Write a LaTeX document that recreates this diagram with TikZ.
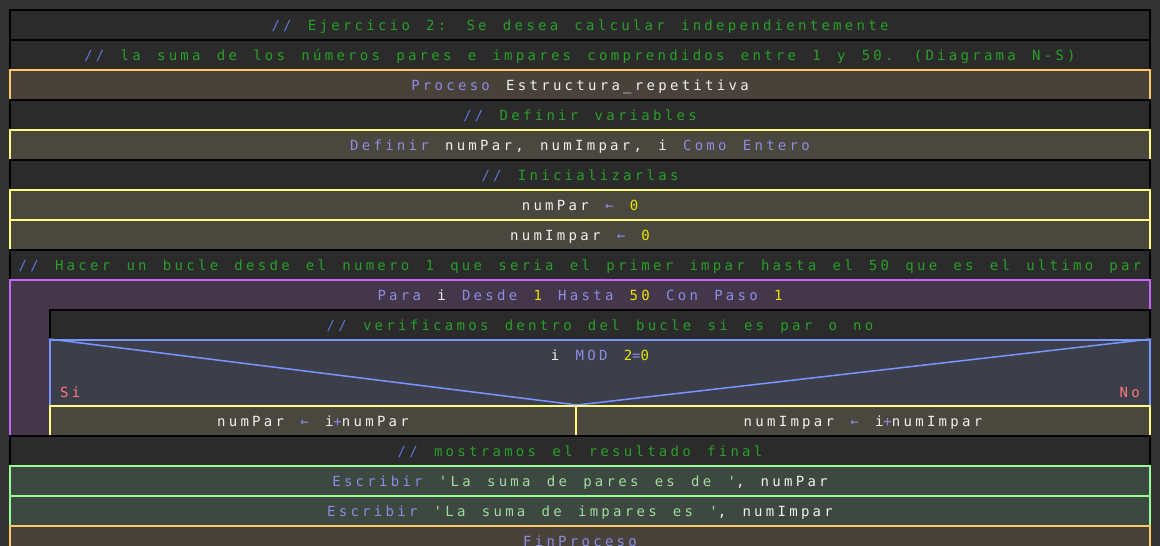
\documentclass[tikz,border=0pt]{standalone}
\usepackage{fontspec}
\newfontfamily\nsfont{DejaVu Sans Mono}[LetterSpace=23.4, WordSpace=1.39]
\usetikzlibrary{positioning}

\definecolor{fondo}{HTML}{333333}
\definecolor{comfill}{HTML}{2B2B2B}
\definecolor{procfill}{HTML}{48423A}
\definecolor{procline}{HTML}{FFC864}
\definecolor{accfill}{HTML}{4A483E}
\definecolor{accline}{HTML}{FFFF80}
\definecolor{parafill}{HTML}{45374A}
\definecolor{paraline}{HTML}{C864FF}
\definecolor{condfill}{HTML}{3C3F4A}
\definecolor{condline}{HTML}{7896FF}
\definecolor{escfill}{HTML}{3C4840}
\definecolor{escline}{HTML}{96FF96}
\definecolor{clave}{HTML}{8C8CE6}
\definecolor{barras}{HTML}{5A78DC}
\definecolor{verde}{HTML}{28A028}
\definecolor{blanco}{HTML}{F0F0F0}
\definecolor{numero}{HTML}{E6E600}
\definecolor{cadena}{HTML}{A0DCA0}
\definecolor{sino}{HTML}{FF7878}

\newcommand{\kwd}[1]{\textcolor{clave}{#1}}
\newcommand{\cmt}[1]{\textcolor{barras}{//} \textcolor{verde}{#1}}
\newcommand{\nmb}[1]{\textcolor{numero}{#1}}
\newcommand{\cad}[1]{\textcolor{cadena}{#1}}
\newcommand{\asig}{\textcolor{clave}{←}}

\tikzset{
  texto/.style={inner sep=0pt, text height=14pt, text depth=3pt, text=blanco,
    font=\nsfont\fontsize{14pt}{16pt}\selectfont},
  nsrow/.style={texto, rectangle, line width=2pt,
    minimum width=1140pt, minimum height=30pt},
  comentario/.style={nsrow, fill=comfill, draw=black},
  proceso/.style={nsrow, fill=procfill, draw=procline},
  accion/.style={nsrow, fill=accfill, draw=accline},
  escribir/.style={nsrow, fill=escfill, draw=escline},
  ciclo/.style={nsrow, fill=parafill, draw=paraline},
  condicion/.style={nsrow, fill=condfill, draw=condline}
}

\begin{document}
\begin{tikzpicture}[x=1pt,y=-1pt]
\fill[fondo] (0,0) rectangle (1160,546);
\useasboundingbox (0,0) rectangle (1160,546);

\node[comentario] (c1) at (580,25) {\cmt{Ejercicio 2: Se desea calcular independientemente}};
\node[comentario] (c2) at (580,55) {\cmt{la suma de los números pares e impares comprendidos entre 1 y 50. (Diagrama N-S)}};
\node[proceso] (proc) at (580,85) {\kwd{Proceso} Estructura\_repetitiva};
\node[comentario] (c3) at (580,115) {\cmt{Definir variables}};
\node[accion] (def) at (580,145) {\kwd{Definir} numPar, numImpar, i \kwd{Como Entero}};
\node[comentario] (c4) at (580,175) {\cmt{Inicializarlas}};
\node[accion] (a1) at (580,205) {numPar \asig{} \nmb{0}};
\node[accion] (a2) at (580,235) {numImpar \asig{} \nmb{0}};
\node[comentario] (c5) at (580,265) {\cmt{Hacer un bucle desde el numero 1 que seria el primer impar hasta el 50 que es el ultimo par}};

% bucle Para
\node[ciclo, minimum height=156pt] (para) at (580,358) {};
\node[texto] (paracab) at (580,295) {\kwd{Para} i \kwd{Desde} \nmb{1} \kwd{Hasta} \nmb{50} \kwd{Con Paso} \nmb{1}};
\node[comentario, minimum width=1100pt] (c6) at (600,325) {\cmt{verificamos dentro del bucle si es par o no}};

% condicion
\node[condicion, minimum width=1100pt, minimum height=66pt, text height=0pt, text depth=0pt] (cond) at (600,373) {};
\node[texto] (condtxt) at (600,355) {i \kwd{MOD} \nmb{2}\kwd{=}\nmb{0}};
\node[texto, text=sino, anchor=west] (si) at (60,392) {Si};
\node[texto, text=sino, anchor=east] (no) at (1140,392) {No};
\node[accion, minimum width=526pt] (ramasi) at (313,421) {numPar \asig{} i\kwd{+}numPar};
\draw[condline, line width=1.5pt] (cond.north west) -- (ramasi.north east) -- (cond.north east);
\node[accion, minimum width=574pt] (ramano) at (863,421) {numImpar \asig{} i\kwd{+}numImpar};

\node[comentario] (c7) at (580,451) {\cmt{mostramos el resultado final}};
\node[escribir] (e1) at (580,481) {\kwd{Escribir} \cad{'La suma de pares es de '}, numPar};
\node[escribir] (e2) at (580,511) {\kwd{Escribir} \cad{'La suma de impares es '}, numImpar};
\node[proceso] (fin) at (580,541) {\kwd{FinProceso}};
\end{tikzpicture}
\end{document}
